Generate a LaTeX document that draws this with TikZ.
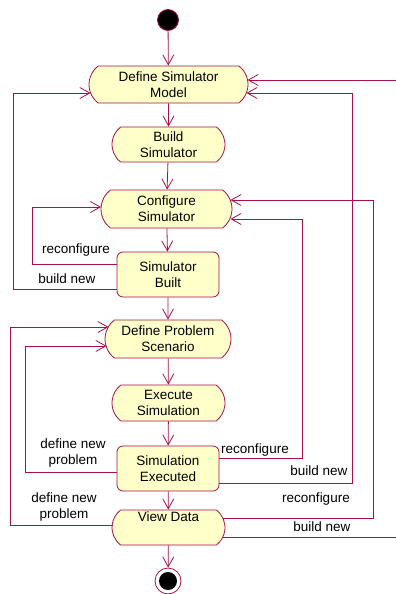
\documentclass[tikz,border=0pt]{standalone}
\usepackage{fontspec}
\setmainfont{Liberation Sans}
\usetikzlibrary{shapes.misc,arrows.meta}
\definecolor{umlline}{HTML}{A5104A}
\definecolor{umlfill}{HTML}{FFFFCA}
\begin{document}
\begin{tikzpicture}[x=1pt, y=-1pt, line width=0.8pt, every node/.style={font=\fontsize{13.5}{16}\selectfont}]
  \tikzstyle{act} = [draw=umlline, fill=umlfill, rounded rectangle, rounded rectangle arc length=105, align=center, inner sep=1pt]
  \tikzstyle{state} = [draw=umlline, fill=umlfill, rounded corners=6pt, align=center, inner sep=1pt]
  \tikzstyle{flow} = [draw=umlline, -{Straight Barb[length=10pt,width=11pt]}]
  \tikzstyle{lbl} = [align=center, inner sep=0pt]
  \useasboundingbox (0,0) rectangle (396,594);
  % activities
  \node[circle, draw=umlline, fill=black, minimum size=21pt, inner sep=0pt] (start) at (168,20) {};
  \node[act, minimum width=161pt, minimum height=37pt] (DSM) at (168.5,84.5) {Define Simulator\\Model};
  \node[act, minimum width=115pt, minimum height=35pt] (BS) at (168.5,144.5) {Build\\Simulator};
  \node[act, minimum width=133pt, minimum height=38pt] (CS) at (166.5,209) {Configure\\Simulator};
  \node[state, minimum width=102pt, minimum height=45pt] (SB) at (168,274.5) {Simulator\\Built};
  \node[act, minimum width=128pt, minimum height=38pt] (DPS) at (168,339) {Define Problem\\Scenario};
  \node[act, minimum width=115pt, minimum height=36pt] (ES) at (168.5,403) {Execute\\Simulation};
  \node[state, minimum width=102pt, minimum height=45pt] (SE) at (168,468.5) {Simulation\\Executed};
  \node[act, minimum width=115pt, minimum height=35pt] (VD) at (168.5,527.5) {View Data\\[6pt]};
  \node[circle, draw=umlline, fill=white, minimum size=26pt, inner sep=0pt] (stop) at (168,581) {};
  \node[circle, fill=black, minimum size=18pt, inner sep=0pt] (stopdot) at (stop) {};
  % main flow
  \draw[flow] (start) -- (DSM);
  \draw[flow] (DSM) -- (BS);
  \draw[flow] (BS) -- (CS);
  \draw[flow] (CS) -- (SB);
  \draw[flow] (SB) -- (DPS);
  \draw[flow] (DPS) -- (ES);
  \draw[flow] (ES) -- (SE);
  \draw[flow] (SE) -- (VD);
  \draw[flow] (VD) -- (stop);
  % loops back
  \draw[flow] ([yshift=10.5pt]SB.west) -- (32,264) |- ([xshift=0.5pt,yshift=2pt]CS.west);
  \draw[flow] ([yshift=-14.5pt]SB.west) -- (13,289) |- ([xshift=2pt,yshift=-8.5pt]DSM.west);
  \draw[flow] ([yshift=-3.5pt]SE.west) -- (25,472) |- ([xshift=2pt,yshift=-7pt]DPS.west);
  \draw[flow] ([xshift=1pt,yshift=2.5pt]VD.west) -- (10,525) |- ([xshift=4pt,yshift=12pt]DPS.west);
  \draw[flow] ([yshift=10.5pt]SE.east) -- (302,458) |- ([xshift=-2pt,yshift=-10pt]CS.east);
  \draw[flow] ([yshift=-14.5pt]SE.east) -- (352,483) |- ([xshift=-2pt,yshift=-8.5pt]DSM.east);
  \draw[flow] ([xshift=-2pt,yshift=9.5pt]VD.east) -- (373,518) |- ([xshift=-2pt,yshift=9pt]CS.east);
  \draw[flow] ([xshift=-2pt,yshift=-9.5pt]VD.east) -- (398,537) |- ([xshift=-1pt,yshift=4.5pt]DSM.east);
  % guard labels
  \node[lbl] (l1) at (76,250) {reconfigure};
  \node[lbl] (l2) at (67,279) {build new};
  \node[lbl] (l3) at (73,453) {define new\\problem};
  \node[lbl] (l4) at (64,507) {define new\\problem};
  \node[lbl] (l5) at (255,450) {reconfigure};
  \node[lbl] (l6) at (319,471) {build new};
  \node[lbl] (l7) at (316,499) {reconfigure};
  \node[lbl] (l8) at (322,527) {build new};
\end{tikzpicture}
\end{document}
